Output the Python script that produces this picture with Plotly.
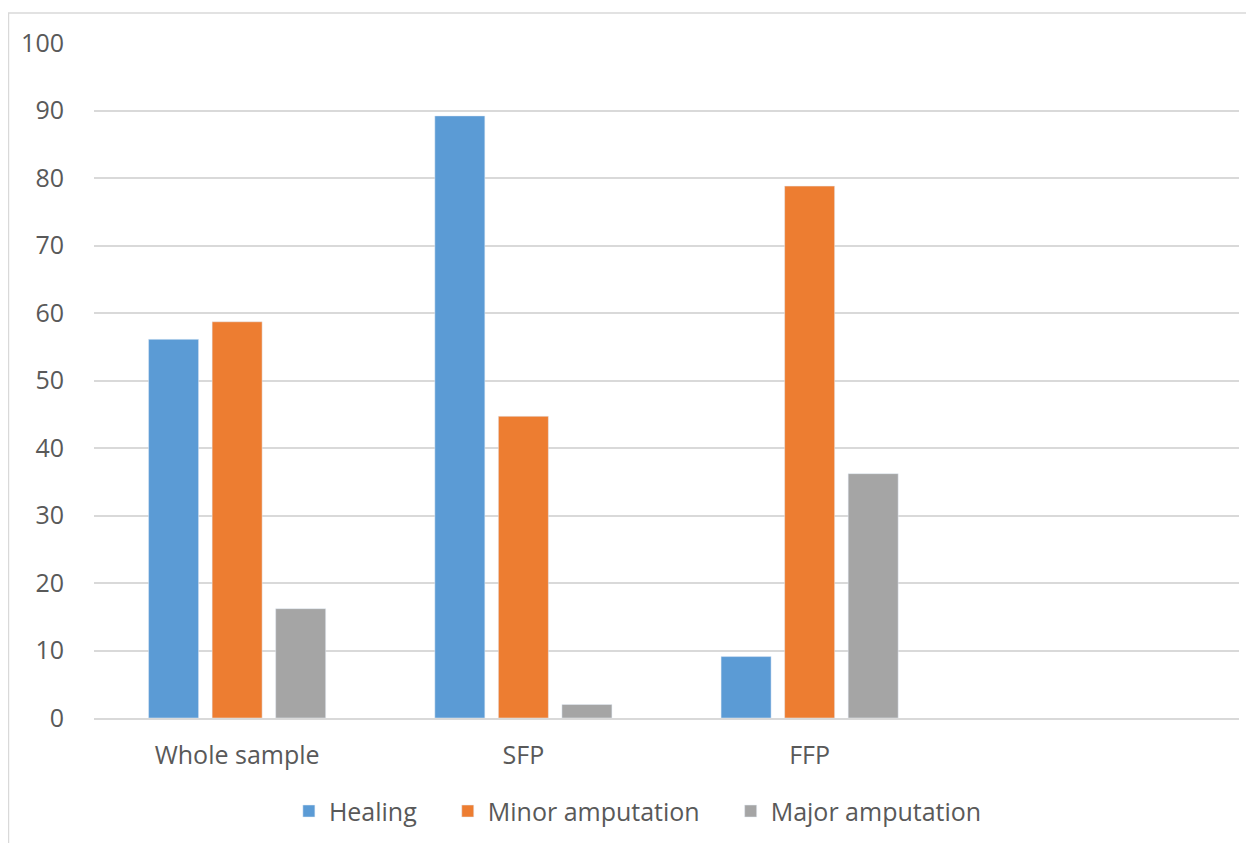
import plotly.graph_objects as go

categories = ["Whole sample", "SFP", "FFP"]
healing = [56.1, 89.2, 9.1]
minor_amputation = [58.7, 44.7, 78.8]
major_amputation = [16.2, 2.0, 36.2]
y_ticks = [0, 10, 20, 30, 40, 50, 60, 70, 80, 90, 100]
series_names = ["Healing", "Minor amputation", "Major amputation"]

FONT = "Open Sans, DejaVu Sans, sans-serif"
TXT = "#595959"
FS = 25
PAD = "\u00a0" * 4

fig = go.Figure()
fig.add_trace(go.Bar(name=series_names[0] + PAD, x=categories, y=healing, marker_color="#5b9bd5"))
fig.add_trace(go.Bar(name=series_names[1] + PAD, x=categories, y=minor_amputation, marker_color="#ed7d31"))
fig.add_trace(go.Bar(name=series_names[2], x=categories, y=major_amputation, marker_color="#a5a5a5"))

fig.update_layout(
    width=1246, height=835,
    margin=dict(l=86, r=15, t=35, b=125, autoexpand=False),
    paper_bgcolor="white", plot_bgcolor="white",
    barmode="group", bargap=0.334, bargroupgap=0.213,
    font=dict(family=FONT, size=FS, color=TXT),
    legend=dict(orientation="h", x=0.475, xanchor="center",
                yref="container", y=0.038, yanchor="middle",
                font=dict(size=FS, color=TXT), itemclick=False),
    showlegend=True,
)
fig.update_xaxes(
    type="category", categoryorder="array", categoryarray=categories,
    range=[-0.5, 3.5], showgrid=False, showline=True, linecolor="#d9d9d9", linewidth=2,
    ticks="outside", ticklen=14, tickcolor="rgba(0,0,0,0)",
    tickfont=dict(size=FS, color=TXT), automargin=False,
)
fig.update_yaxes(
    range=[0, 100], tickvals=y_ticks, showgrid=True, gridcolor="#d9d9d9", gridwidth=1.5,
    zeroline=False, showline=False,
    ticks="outside", ticklen=24, tickcolor="rgba(0,0,0,0)",
    tickfont=dict(size=FS, color=TXT), automargin=False,
)
fig.add_shape(type="rect", xref="paper", yref="paper",
              x0=-0.0747, x1=1.02, y0=-0.2, y1=1.0444,
              line=dict(color="#d9d9d9", width=1.5), fillcolor="rgba(0,0,0,0)", layer="below")

fig.write_html("out.html")
